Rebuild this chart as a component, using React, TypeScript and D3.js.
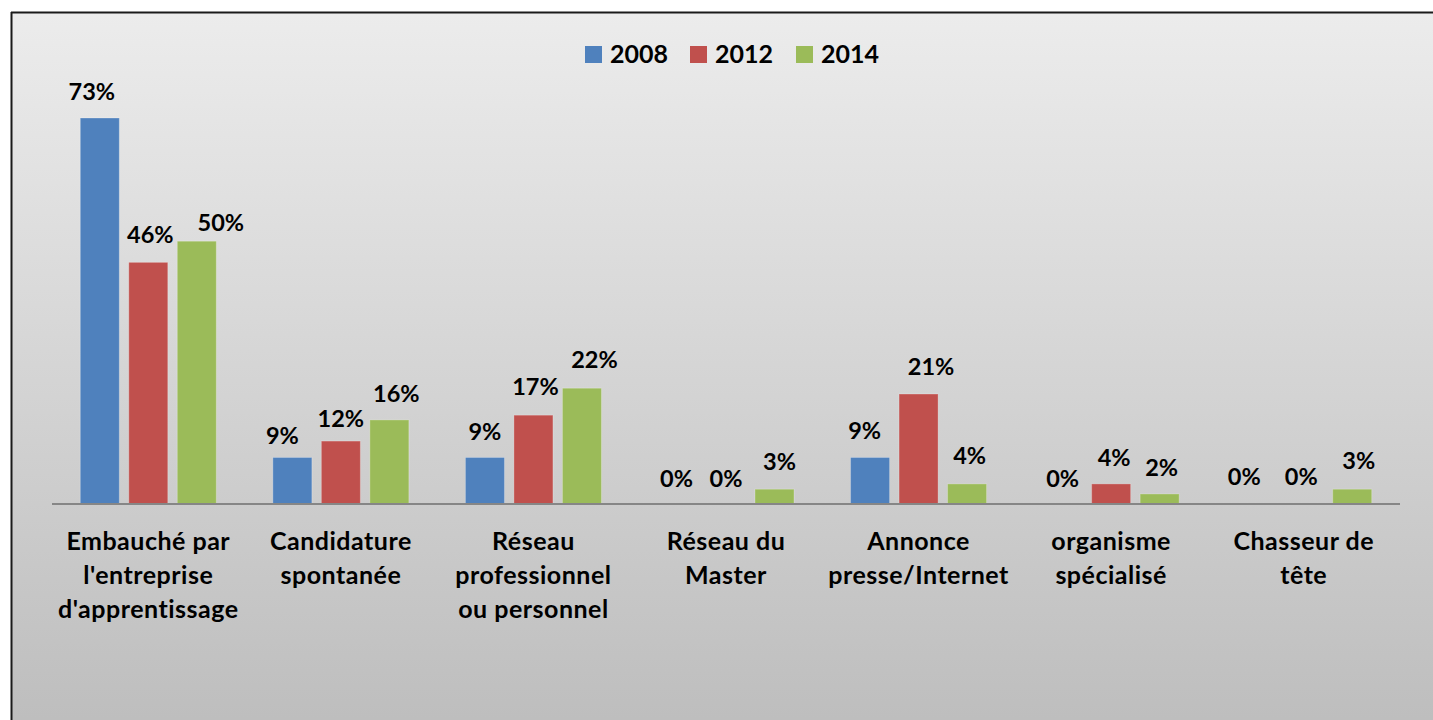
import React from "react";
import * as d3 from "d3";

const categories: string[][] = [
  ["Embauché par", "l'entreprise", "d'apprentissage"],
  ["Candidature", "spontanée"],
  ["Réseau", "professionnel", "ou personnel"],
  ["Réseau du", "Master"],
  ["Annonce", "presse/Internet"],
  ["organisme", "spécialisé"],
  ["Chasseur de", "tête"],
];
const seriesNames = ["2008", "2012", "2014"];
const values2008 = [73, 8.8, 8.8, 0, 8.8, 0, 0];
const values2012 = [45.7, 11.9, 16.8, 0, 20.8, 3.8, 0];
const values2014 = [49.7, 15.9, 21.9, 2.8, 3.8, 1.9, 2.8];
const labels2008 = ["73%", "9%", "9%", "0%", "9%", "0%", "0%"];
const labels2012 = ["46%", "12%", "17%", "0%", "21%", "4%", "0%"];
const labels2014 = ["50%", "16%", "22%", "3%", "4%", "2%", "3%"];
const colors = ["#4f81bd", "#c0504d", "#9bbb59"];

// manual data-label nudges (horizontal shift, gap above the bar top)
const nudgeX = [
  [-8, -10, 0, -1, -5.5, 0, -11],
  [2, 0, 2, 0, 12.5, 3, -2.5],
  [24, 7, 12.5, 5, 2.5, 2, 6.5],
];
const nudgeY = [
  [18, 13, 17, 17, 18, 17, 19],
  [19, 14, 20, 17, 19, 18, 19],
  [10, 18, 20, 19, 20, 18, 20],
];

const W = 1433;
const H = 720;
const FONT = "Lato, 'Open Sans', sans-serif";

export default function App() {
  const series = [values2008, values2012, values2014];
  const labels = [labels2008, labels2012, labels2014];
  const x0 = d3
    .scaleBand<number>()
    .domain(d3.range(categories.length))
    .range([52, 1400])
    .paddingInner(0)
    .paddingOuter(0);
  const bandW = x0.bandwidth();
  const barW = 39;
  const gap = 9.5;
  const groupW = barW * 3 + gap * 2;
  const y = d3.scaleLinear().domain([0, 80]).range([504, 81]);

  const legendX = [585, 690, 796];

  return (
    <svg
      width={W}
      height={H}
      style={{ position: "absolute", left: 0, top: 0 }}
      fontFamily={FONT}
    >
      <defs>
        <linearGradient id="bg" x1="0" y1="0" x2="0" y2="1">
          <stop offset="0%" stopColor="#ececec" />
          <stop offset="100%" stopColor="#bdbdbd" />
        </linearGradient>
      </defs>
      <rect x={0} y={0} width={W} height={H} fill="#ffffff" />
      <rect x={12} y={13} width={W} height={H} fill="url(#bg)" />
      <line x1={11.5} y1={12} x2={11.5} y2={H} stroke="#1a1a1a" strokeWidth={2} />
      <line x1={11} y1={12.5} x2={W} y2={12.5} stroke="#1a1a1a" strokeWidth={2} />

      {/* legend */}
      {seriesNames.map((s, i) => (
        <g key={s}>
          <rect x={legendX[i]} y={46} width={17} height={17} fill={colors[i]} />
          <text
            x={legendX[i] + 25}
            y={63}
            fontSize={25}
            fontWeight={700}
            fill="#000"
          >
            {s}
          </text>
        </g>
      ))}

      {/* bars */}
      {series.map((vals, si) =>
        vals.map((v, ci) => {
          const bx = (x0(ci) as number) + (bandW - groupW) / 2 + si * (barW + gap);
          return (
            <g key={`${si}-${ci}`}>
              {v > 0 && (
                <rect
                  x={bx}
                  y={y(v)}
                  width={barW}
                  height={y(0) - y(v)}
                  fill={colors[si]}
                  stroke="#ffffff"
                  strokeOpacity={0.25}
                  strokeWidth={1}
                />
              )}
              <text
                x={bx + barW / 2 + nudgeX[si][ci]}
                y={y(v) - nudgeY[si][ci]}
                textAnchor="middle"
                fontSize={23.5}
                fontWeight={700}
                fill="#000"
              >
                {labels[si][ci]}
              </text>
            </g>
          );
        })
      )}

      {/* axis */}
      <line x1={52} y1={504} x2={1400} y2={504} stroke="#868686" strokeWidth={2} />

      {/* category labels */}
      {categories.map((lines, ci) => (
        <text
          key={ci}
          x={(x0(ci) as number) + bandW / 2}
          y={549}
          textAnchor="middle"
          fontSize={25}
          letterSpacing={0.5}
          fontWeight={700}
          fill="#000"
        >
          {lines.map((l, li) => (
            <tspan key={li} x={(x0(ci) as number) + bandW / 2} y={550 + li * 34}>
              {l}
            </tspan>
          ))}
        </text>
      ))}
    </svg>
  );
}
